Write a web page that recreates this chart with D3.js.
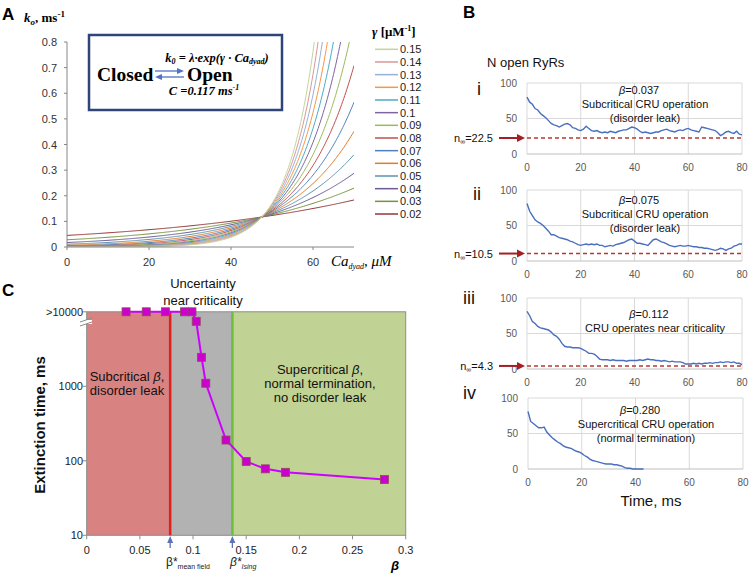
<!DOCTYPE html>
<html>
<head>
<meta charset="utf-8">
<script src="https://cdn.jsdelivr.net/npm/d3@7"></script>
<style>
  body { margin: 0; background: #fff; }
  svg { display: block; }
  .sans { font-family: "Liberation Sans", Arial, sans-serif; }
  .serif { font-family: "Liberation Serif", "Times New Roman", serif; }
</style>
</head>
<body>
<svg id="fig" width="749" height="576"></svg>
<script>
// ---- Panel A data ----
const gammas = [0.15, 0.14, 0.13, 0.12, 0.11, 0.1, 0.09, 0.08, 0.07, 0.06, 0.05, 0.04, 0.03, 0.02];
const gammaColors = ['#c3d69b', '#d99795', '#95b3d7', '#f79646', '#4bacc6', '#8064a2', '#9bbb59',
                     '#c0504d', '#4f81bd', '#e07b28', '#5b94ab', '#6b5a96', '#77933c', '#943634'];
const rateC = 0.117;      // ms-1, common crossing value
const caCross = 47.5;     // uM, where all curves cross
const caTicks = [0, 20, 40, 60];
const kTicks = [0, 0.1, 0.2, 0.3, 0.4, 0.5, 0.6, 0.7, 0.8];

// ---- Panel B data (N open RyRs vs time, ms) ----
const traceI = [80,73,70,64,62,57,54,51,47,43,41,40,38,40,42,43,41,37,36,34,33,35,39,36,33,32,33,31,30,31,
  30,32,31,30,32,33,34,34,36,38,37,35,32,30,31,30,29,30,31,31,33,34,35,33,32,31,33,34,33,35,
  36,34,33,32,31,38,37,36,35,34,33,30,26,28,31,32,30,29,32,28,27];
const traceII = [81,70,64,58,55,53,50,46,42,37,37,35,33,32,31,30,28,27,25,23,22,23,24,23,24,23,24,22,22,20,
  21,22,21,23,24,25,26,28,30,31,28,25,25,24,23,22,26,30,31,29,27,26,24,22,21,20,21,22,21,21,
  22,21,20,20,19,19,18,18,17,16,15,16,18,17,15,17,18,21,22,24,24];
const traceIII = [81,75,67,64,60,58,57,56,55,52,48,46,42,36,32,31,31,30,30,30,29,27,25,22,22,21,18,14,13,13,
  13,12,13,12,12,12,12,11,12,12,12,12,13,12,13,14,13,13,12,12,11,12,11,10,11,10,10,10,9,7,
  7,7,8,7,8,7,8,8,9,8,9,9,10,9,10,10,9,10,8,8,6];
const traceIV = [81,67,64,61,58,58,59,52,48,44,41,38,36,33,31,30,29,27,25,24,22,19,17,14,12,11,10,9,8,7,
  7,7,6,6,5,4,2,1,1,0,0,0,0,0];
const betaB = ['0.037', '0.075', '0.112', '0.280'];
const nInf = [22.5, 10.5, 4.3, null];
const romanB = ['i', 'ii', 'iii', 'iv'];
const textB = [['Subcritical CRU operation', '(disorder leak)'],
               ['Subcritical CRU operation', '(disorder leak)'],
               ['CRU operates near criticality'],
               ['Supercritical CRU operation', '(normal termination)']];
const timeTicks = [0, 20, 40, 60, 80];
const nTicks = [0, 50, 100];

// ---- Panel C data ----
const betaC = [0.037, 0.056, 0.074, 0.092, 0.099, 0.103, 0.108, 0.112, 0.131, 0.150, 0.168, 0.187, 0.280];
const extinction = [10000, 10000, 10000, 10000, 10000, 7450, 2450, 1100, 190, 98, 78, 70, 56];
const betaMeanField = 0.0785;
const betaIsing = 0.137;
const betaTicks = [0, 0.05, 0.1, 0.15, 0.2, 0.25, 0.3];
const extTicks = [10, 100, 1000, 10000];
const extTickLabels = ['10', '100', '1000', '>10000'];

const svg = d3.select('#fig');

// ================= Panel A =================
const xA = d3.scaleLinear().domain([0, 70]).range([67, 354]);
const yA = d3.scaleLinear().domain([0, 0.8]).range([247, 42]);

svg.append('text').attr('class', 'sans').attr('x', 2).attr('y', 20)
  .style('font-size', '17px').style('font-weight', 'bold').text('A');

const kTitle = svg.append('text').attr('class', 'serif').attr('x', 24).attr('y', 22)
  .style('font-size', '13px').style('font-weight', 'bold');
kTitle.append('tspan').style('font-style', 'italic').text('k');
kTitle.append('tspan').attr('dy', 3).style('font-size', '9px').style('font-style', 'italic').text('o');
kTitle.append('tspan').attr('dy', -3).text(', ms');
kTitle.append('tspan').attr('dy', -5).style('font-size', '9px').text('-1');

svg.append('defs').append('clipPath').attr('id', 'clipA')
  .append('rect').attr('x', 67).attr('y', 42).attr('width', 287).attr('height', 205);

// curves follow the model printed in the box: k0 = λ·exp(γ·Ca), all through (caCross, rateC)
const caSamples = d3.range(0, 70.01, 0.25);
const lineA = d3.line().x(d => xA(d[0])).y(d => yA(d[1]));
const gA = svg.append('g').attr('clip-path', 'url(#clipA)');
gammas.slice().reverse().forEach((g, i) => {
  const idx = gammas.length - 1 - i;
  const lam = rateC * Math.exp(-g * caCross);
  const pts = caSamples.map(c => [c, lam * Math.exp(g * c)]);
  gA.append('path').attr('d', lineA(pts)).attr('fill', 'none')
    .attr('stroke', gammaColors[idx]).attr('stroke-width', 1);
});

// axes A
const axA = svg.append('g').attr('class', 'sans').style('font-size', '11px');
axA.append('line').attr('x1', xA(0)).attr('x2', xA(70)).attr('y1', yA(0)).attr('y2', yA(0))
  .attr('stroke', '#868686');
axA.append('line').attr('x1', xA(0)).attr('x2', xA(0)).attr('y1', yA(0)).attr('y2', yA(0.8))
  .attr('stroke', '#868686');
caTicks.forEach(t => {
  axA.append('line').attr('x1', xA(t)).attr('x2', xA(t)).attr('y1', yA(0)).attr('y2', yA(0) + 3)
    .attr('stroke', '#868686');
  axA.append('text').attr('x', xA(t)).attr('y', 266).attr('text-anchor', 'middle')
    .attr('fill', '#333').text(t);
});
kTicks.forEach(t => {
  axA.append('line').attr('x1', xA(0) - 3).attr('x2', xA(0)).attr('y1', yA(t)).attr('y2', yA(t))
    .attr('stroke', '#868686');
  axA.append('text').attr('x', 57).attr('y', yA(t) + 4).attr('text-anchor', 'end')
    .attr('fill', '#333').text(t);
});

const caTitle = svg.append('text').attr('class', 'serif').attr('x', 331).attr('y', 266)
  .style('font-size', '15px').style('font-style', 'italic');
caTitle.append('tspan').text('Ca');
caTitle.append('tspan').attr('dy', 3).style('font-size', '8px').text('dyad');
caTitle.append('tspan').attr('dy', -3).text(', μM');

// box with scheme
svg.append('rect').attr('x', 89).attr('y', 35).attr('width', 193).attr('height', 75)
  .attr('fill', '#fff').attr('stroke', '#2f4479').attr('stroke-width', 2.5);
const fk = svg.append('text').attr('class', 'serif').attr('x', 217).attr('y', 62)
  .attr('text-anchor', 'middle').style('font-size', '12.5px').style('font-weight', 'bold')
  .style('font-style', 'italic');
fk.append('tspan').text('k');
fk.append('tspan').attr('dy', 2).style('font-size', '8px').text('0');
fk.append('tspan').attr('dy', -2).text(' = λ·exp(γ · Ca');
fk.append('tspan').attr('dy', 2).style('font-size', '8px').text('dyad');
fk.append('tspan').attr('dy', -2).text(')');
svg.append('text').attr('class', 'serif').attr('x', 97).attr('y', 81)
  .style('font-size', '19.5px').style('font-weight', 'bold').text('Closed');
svg.append('text').attr('class', 'serif').attr('x', 187).attr('y', 81)
  .style('font-size', '19.5px').style('font-weight', 'bold').text('Open');
const arrowBlue = '#4f72c4';
svg.append('line').attr('x1', 155).attr('x2', 180).attr('y1', 71).attr('y2', 71)
  .attr('stroke', arrowBlue).attr('stroke-width', 1.3);
svg.append('path').attr('d', 'M184,71 L177,68 L177,74 Z').attr('fill', arrowBlue);
svg.append('line').attr('x1', 159).attr('x2', 184).attr('y1', 77).attr('y2', 77)
  .attr('stroke', arrowBlue).attr('stroke-width', 1.3);
svg.append('path').attr('d', 'M155,77 L162,74 L162,80 Z').attr('fill', arrowBlue);
const fc = svg.append('text').attr('class', 'serif').attr('x', 204).attr('y', 95)
  .attr('text-anchor', 'middle').style('font-size', '12.5px').style('font-weight', 'bold')
  .style('font-style', 'italic');
fc.append('tspan').text('C =0.117 ms');
fc.append('tspan').attr('dy', -5).style('font-size', '8px').text('-1');

// legend
const lgT = svg.append('text').attr('class', 'serif').attr('x', 372).attr('y', 36)
  .style('font-size', '13px').style('font-weight', 'bold');
lgT.append('tspan').style('font-style', 'italic').text('γ');
lgT.append('tspan').text(' [μM');
lgT.append('tspan').attr('dy', -5).style('font-size', '8px').text('-1');
lgT.append('tspan').attr('dy', 5).text(']');
gammas.forEach((g, i) => {
  const y = 49.3 + i * 12.67;
  svg.append('line').attr('x1', 375).attr('x2', 398).attr('y1', y).attr('y2', y)
    .attr('stroke', gammaColors[i]).attr('stroke-width', 1.5);
  svg.append('text').attr('class', 'sans').attr('x', 400).attr('y', y + 4)
    .style('font-size', '11px').attr('fill', '#222').text(g);
});

// ================= Panel B =================
svg.append('text').attr('class', 'sans').attr('x', 463).attr('y', 18)
  .style('font-size', '17px').style('font-weight', 'bold').text('B');
svg.append('text').attr('class', 'sans').attr('x', 487).attr('y', 67)
  .style('font-size', '13px').attr('fill', '#111').text('N open RyRs');

const traces = [traceI, traceII, traceIII, traceIV];
const bottomsB = [154, 261, 369, 469];
const xRangesB = [[527, 742], [527, 742], [527, 742], [528, 743]];
const romanPos = [[477, 95], [473, 200], [463, 304], [463, 399]];
const betaY = [94, 204, 318, 414];

traces.forEach((tr, k) => {
  const x = d3.scaleLinear().domain([0, 80]).range(xRangesB[k]);
  const y = d3.scaleLinear().domain([0, 100]).range([bottomsB[k], bottomsB[k] - 71]);
  const g = svg.append('g').attr('class', 'sans');
  // gridlines
  nTicks.slice(1).forEach(t => g.append('line').attr('x1', x(0)).attr('x2', x(80))
    .attr('y1', y(t)).attr('y2', y(t)).attr('stroke', '#d9d9d9'));
  timeTicks.slice(1).forEach(t => g.append('line').attr('x1', x(t)).attr('x2', x(t))
    .attr('y1', y(0)).attr('y2', y(100)).attr('stroke', '#d9d9d9'));
  g.append('line').attr('x1', x(0)).attr('x2', x(0)).attr('y1', y(0)).attr('y2', y(100))
    .attr('stroke', '#d9d9d9');
  g.append('line').attr('x1', x(0)).attr('x2', x(80)).attr('y1', y(0)).attr('y2', y(0))
    .attr('stroke', '#bfbfbf');
  nTicks.forEach(t => g.append('text').attr('x', x(0) - 10).attr('y', y(t) + 3.5)
    .attr('text-anchor', 'end').style('font-size', '10px').attr('fill', '#595959').text(t));
  timeTicks.forEach(t => g.append('text').attr('x', x(t)).attr('y', y(0) + 17)
    .attr('text-anchor', 'middle').style('font-size', '10px').attr('fill', '#595959').text(t));

  // n-infinity level
  if (nInf[k] !== null) {
    g.append('line').attr('x1', x(0)).attr('x2', x(80)).attr('y1', y(nInf[k])).attr('y2', y(nInf[k]))
      .attr('stroke', '#b23a32').attr('stroke-width', 1.5).attr('stroke-dasharray', '4,3');
    g.append('line').attr('x1', 499).attr('x2', 518).attr('y1', y(nInf[k])).attr('y2', y(nInf[k]))
      .attr('stroke', '#a31f24').attr('stroke-width', 2);
    g.append('path').attr('d', `M525,${y(nInf[k])} L517,${y(nInf[k]) - 4} L517,${y(nInf[k]) + 4} Z`)
      .attr('fill', '#a31f24');
    const nl = g.append('text').attr('x', 493).attr('y', y(nInf[k]) + 4).attr('text-anchor', 'end')
      .style('font-size', '11px').attr('fill', '#111');
    nl.append('tspan').text('n');
    nl.append('tspan').attr('dy', 2).style('font-size', '7px').text('∞');
    nl.append('tspan').attr('dy', -2).text('=' + nInf[k]);
  }

  // trace
  g.append('path').datum(tr)
    .attr('d', d3.line().x((d, i) => x(i)).y(d => y(d)))
    .attr('fill', 'none').attr('stroke', '#4a6fbf').attr('stroke-width', 1.4);

  g.append('text').attr('x', romanPos[k][0]).attr('y', romanPos[k][1])
    .style('font-size', '18px').attr('fill', '#111').text(romanB[k]);

  const cx = k === 2 ? 653 : (k === 3 ? 644 : 643);
  const bt = g.append('text').attr('x', cx - 4).attr('y', betaY[k]).attr('text-anchor', 'middle')
    .style('font-size', '11px').attr('fill', '#111');
  bt.append('tspan').style('font-style', 'italic').text('β');
  bt.append('tspan').text('=' + betaB[k]);
  textB[k].forEach((s, j) => g.append('text').attr('x', cx + 2).attr('y', betaY[k] + 14 + j * 13.5)
    .attr('text-anchor', 'middle').style('font-size', '11px').attr('fill', '#111').text(s));
});
svg.append('text').attr('class', 'sans').attr('x', 651).attr('y', 506).attr('text-anchor', 'middle')
  .style('font-size', '15px').attr('fill', '#111').text('Time, ms');

// ================= Panel C =================
const xC = d3.scaleLinear().domain([0, 0.3]).range([86.7, 405.7]);
const yC = d3.scaleLog().domain([10, 10000]).range([535.3, 311.8]);

svg.append('text').attr('class', 'sans').attr('x', 2).attr('y', 296)
  .style('font-size', '17px').style('font-weight', 'bold').text('C');

const gC = svg.append('g').attr('class', 'sans');
gC.append('rect').attr('x', xC(0)).attr('y', yC(10000)).attr('width', xC(betaMeanField) - xC(0))
  .attr('height', yC(10) - yC(10000)).attr('fill', '#d98282');
gC.append('rect').attr('x', xC(betaMeanField)).attr('y', yC(10000))
  .attr('width', xC(betaIsing) - xC(betaMeanField)).attr('height', yC(10) - yC(10000)).attr('fill', '#b2b2b2');
gC.append('rect').attr('x', xC(betaIsing)).attr('y', yC(10000)).attr('width', xC(0.3) - xC(betaIsing))
  .attr('height', yC(10) - yC(10000)).attr('fill', '#c0d394');
gC.append('rect').attr('x', xC(0)).attr('y', yC(10000)).attr('width', xC(0.3) - xC(0))
  .attr('height', yC(10) - yC(10000)).attr('fill', 'none').attr('stroke', '#8c8c8c');
gC.append('line').attr('x1', xC(betaMeanField)).attr('x2', xC(betaMeanField))
  .attr('y1', yC(10000)).attr('y2', yC(10)).attr('stroke', '#e0201c').attr('stroke-width', 2.5);
gC.append('line').attr('x1', xC(betaIsing)).attr('x2', xC(betaIsing))
  .attr('y1', yC(10000)).attr('y2', yC(10)).attr('stroke', '#6cbf3c').attr('stroke-width', 2.5);

// axes C
extTicks.forEach((t, i) => {
  gC.append('line').attr('x1', xC(0) - 4).attr('x2', xC(0)).attr('y1', yC(t)).attr('y2', yC(t))
    .attr('stroke', '#8c8c8c');
  gC.append('text').attr('x', 83).attr('y', yC(t) + 4).attr('text-anchor', 'end')
    .style('font-size', '11px').attr('fill', '#222').text(extTickLabels[i]);
});
betaTicks.forEach(t => {
  gC.append('line').attr('x1', xC(t)).attr('x2', xC(t)).attr('y1', yC(10)).attr('y2', yC(10) + 4)
    .attr('stroke', '#8c8c8c');
  gC.append('text').attr('x', xC(t)).attr('y', 554).attr('text-anchor', 'middle')
    .style('font-size', '11px').attr('fill', '#222').text(d3.format('~g')(t));
});
// axis break mark
gC.append('rect').attr('x', 80).attr('y', 320).attr('width', 12).attr('height', 4).attr('fill', '#fff');
gC.append('line').attr('x1', 80).attr('x2', 92).attr('y1', 322).attr('y2', 318).attr('stroke', '#8c8c8c');
gC.append('line').attr('x1', 80).attr('x2', 92).attr('y1', 326).attr('y2', 322).attr('stroke', '#8c8c8c');

// line + markers
gC.append('path').datum(betaC.map((b, i) => [b, extinction[i]]))
  .attr('d', d3.line().x(d => xC(d[0])).y(d => yC(d[1])))
  .attr('fill', 'none').attr('stroke', '#cc00ff').attr('stroke-width', 2);
gC.selectAll('.pt').data(betaC).enter().append('rect')
  .attr('x', (d) => xC(d) - 4).attr('y', (d, i) => yC(extinction[i]) - 4)
  .attr('width', 8).attr('height', 8).attr('fill', '#cc00cc').attr('stroke', '#8e4a55')
  .attr('stroke-width', 0.8);

// titles C
gC.append('text').attr('transform', 'translate(45,425) rotate(-90)').attr('text-anchor', 'middle')
  .style('font-size', '15px').style('font-weight', 'bold').attr('fill', '#111').text('Extinction time, ms');
gC.append('text').attr('x', 395).attr('y', 570).attr('text-anchor', 'middle')
  .style('font-size', '13px').style('font-weight', 'bold').style('font-style', 'italic').text('β');
gC.append('text').attr('x', 203).attr('y', 288).attr('text-anchor', 'middle')
  .style('font-size', '13px').attr('fill', '#111').text('Uncertainty');
gC.append('text').attr('x', 203).attr('y', 305).attr('text-anchor', 'middle')
  .style('font-size', '13px').attr('fill', '#111').text('near criticality');

const sub = gC.append('text').attr('x', 127).attr('y', 381).attr('text-anchor', 'middle')
  .style('font-size', '13px').attr('fill', '#111');
sub.append('tspan').text('Subcritical ');
sub.append('tspan').style('font-style', 'italic').text('β');
sub.append('tspan').text(',');
gC.append('text').attr('x', 127).attr('y', 395).attr('text-anchor', 'middle')
  .style('font-size', '13px').attr('fill', '#111').text('disorder leak');
const sup = gC.append('text').attr('x', 320).attr('y', 374).attr('text-anchor', 'middle')
  .style('font-size', '13px').attr('fill', '#111');
sup.append('tspan').text('Supercritical ');
sup.append('tspan').style('font-style', 'italic').text('β');
sup.append('tspan').text(',');
gC.append('text').attr('x', 320).attr('y', 388).attr('text-anchor', 'middle')
  .style('font-size', '13px').attr('fill', '#111').text('normal termination,');
gC.append('text').attr('x', 320).attr('y', 402).attr('text-anchor', 'middle')
  .style('font-size', '13px').attr('fill', '#111').text('no disorder leak');

// critical beta arrows and labels
[betaMeanField, betaIsing].forEach(b => {
  gC.append('line').attr('x1', xC(b)).attr('x2', xC(b)).attr('y1', 548).attr('y2', 541)
    .attr('stroke', '#5b74b4').attr('stroke-width', 1.3);
  gC.append('path').attr('d', `M${xC(b)},536 L${xC(b) - 3},543 L${xC(b) + 3},543 Z`).attr('fill', '#5b74b4');
});
const mf = gC.append('text').attr('x', 166).attr('y', 566).style('font-size', '12px').attr('fill', '#222');
mf.append('tspan').text('β*');
mf.append('tspan').attr('dy', 3).style('font-size', '7px').text('mean field');
const is = gC.append('text').attr('x', 230).attr('y', 566).style('font-size', '12px').attr('fill', '#222');
is.append('tspan').style('font-style', 'italic').text('β*');
is.append('tspan').attr('dy', 3).style('font-size', '7px').style('font-style', 'italic').text('Ising');
</script>
</body>
</html>
